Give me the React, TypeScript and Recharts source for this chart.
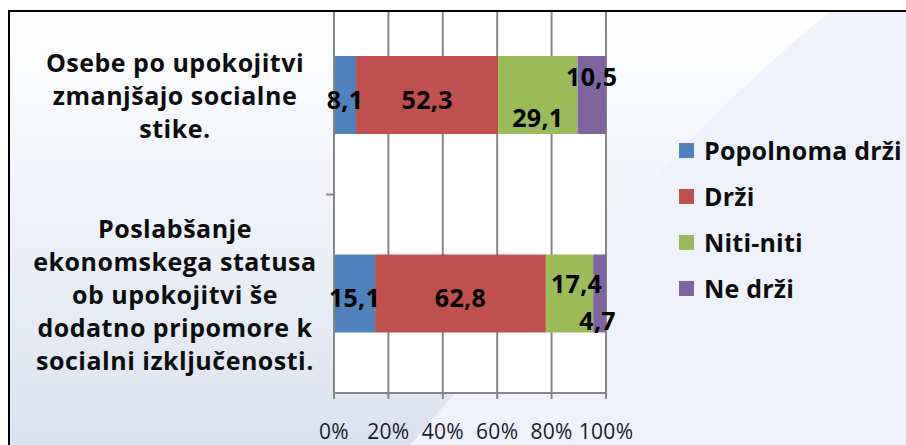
import { BarChart, Bar, XAxis, YAxis, CartesianGrid, LabelList } from 'recharts';

const categories = [
  ['Osebe po upokojitvi', 'zmanjšajo socialne', 'stike.'],
  ['Poslabšanje', 'ekonomskega statusa', 'ob upokojitvi še', 'dodatno pripomore k', 'socialni izključenosti.'],
];
const popolnomaDrzi = [8.1, 15.1];
const drzi = [52.3, 62.8];
const nitiNiti = [29.1, 17.4];
const neDrzi = [10.5, 4.7];
const xTicks = [0, 20, 40, 60, 80, 100];

const series = [
  { key: 'popolnoma', name: 'Popolnoma drži', color: '#4f81bd', values: popolnomaDrzi },
  { key: 'drzi', name: 'Drži', color: '#c0504d', values: drzi },
  { key: 'niti', name: 'Niti-niti', color: '#9bbb59', values: nitiNiti },
  { key: 'ne', name: 'Ne drži', color: '#8064a2', values: neDrzi },
];

const data = categories.map((lines, i) => {
  const row: any = { name: lines.join(' '), idx: i };
  series.forEach((s) => { row[s.key] = s.values[i]; });
  return row;
});

// Excel nudges some labels up/down so they don't collide
const labelNudge: Record<string, { dx: number; dy: number }[]> = {
  popolnoma: [{ dx: 0, dy: 4 }, { dx: 0, dy: 3 }],
  drzi: [{ dx: 0, dy: 4 }, { dx: 0, dy: 3 }],
  niti: [{ dx: 0, dy: 22 }, { dx: 7, dy: -11 }],
  ne: [{ dx: 0, dy: -19 }, { dx: -2, dy: 26 }],
};

const FONT = '"Open Sans", Lato, sans-serif';

const makeLabel = (key: string) => (props: any) => {
  const { x, y, width, height, value, index } = props;
  const n = labelNudge[key][index] || { dx: 0, dy: 0 };
  return (
    <text
      x={x + width / 2 + n.dx}
      y={y + height / 2 + n.dy}
      textAnchor="middle"
      dominantBaseline="central"
      fontFamily={FONT}
      fontWeight={700}
      fontSize={25}
      letterSpacing={0.3}
      fill="#000"
    >
      {String(value).replace('.', ',')}
    </text>
  );
};

const CategoryTick = (props: any) => {
  const { y, payload, index } = props;
  const lines = categories[index] || [];
  const lh = 33;
  const start = y - ((lines.length - 1) * lh) / 2;
  const half = payload.offset || 0;
  return (
    <g>
      {lines.map((l, i) => (
        <text
          key={i}
          x={175}
          y={start + i * lh}
          textAnchor="middle"
          dominantBaseline="central"
          fontFamily={FONT}
          fontWeight={700}
          fontSize={25}
          letterSpacing={0.5}
          fill="#0d0d0d"
        >
          {l}
        </text>
      ))}
      {index === 0 && half > 0 ? (
        <line x1={326} x2={334} y1={y + half} y2={y + half} stroke="#868686" strokeWidth={2} />
      ) : null}
    </g>
  );
};

const LegendBox = () => (
  <div style={{ fontFamily: FONT, fontWeight: 700, fontSize: 25, letterSpacing: 0.2, color: '#0d0d0d', whiteSpace: 'nowrap' }}>
    {series.map((s) => (
      <div key={s.key} style={{ display: 'flex', alignItems: 'center', height: 46 }}>
        <span style={{ display: 'inline-block', width: 15, height: 15, background: s.color, marginRight: 10 }} />
        <span>{s.name}</span>
      </div>
    ))}
  </div>
);

export default function App() {
  return (
    <div style={{ position: 'absolute', left: 0, top: 0, width: 906, height: 445, background: '#fff', overflow: 'hidden' }}>
      {/* backdrop */}
      <svg width={906} height={445} style={{ position: 'absolute', left: 0, top: 0 }}>
        <defs>
          <linearGradient id="bgL" x1="0" y1="0" x2="0" y2="1">
            <stop offset="0%" stopColor="#ffffff" />
            <stop offset="45%" stopColor="#f1f3f9" />
            <stop offset="100%" stopColor="#dbe2f0" />
          </linearGradient>
        </defs>
        <rect x={0} y={0} width={906} height={445} fill="url(#bgL)" />
        <path d="M 845 0 Q 700 110 410 445 L 906 445 L 906 0 Z" fill="#eff2fa" />
        <rect x={0} y={0} width={906} height={10} fill="#fff" />
        <rect x={0} y={0} width={8} height={445} fill="#fff" />
      </svg>
      {/* frame: top and left border only */}
      <div
        style={{
          position: 'absolute', left: 8, top: 10, right: 0, bottom: 0,
          borderTop: '2px solid #000', borderLeft: '2px solid #000', overflow: 'hidden',
        }}
      >
        <div style={{ position: 'absolute', left: -10, top: -12 }}>
          <BarChart
            width={906}
            height={445}
            data={data}
            layout="vertical"
            margin={{ top: -4, right: 300, bottom: 22, left: 0 }}
            barSize={78}
          >
            <CartesianGrid horizontal={false} stroke="#868686" strokeWidth={2} fill="#ffffff" />
            <XAxis
              type="number"
              domain={[0, 100]}
              ticks={xTicks}
              tickFormatter={(v) => `${v}%`}
              stroke="#868686"
              strokeWidth={2}
              tickSize={6}
              tickMargin={25}
              height={30}
              tick={{ fill: '#1a1a2a', fontFamily: FONT, fontSize: 21, letterSpacing: 0.3 }}
            />
            <YAxis
              type="category"
              dataKey="name"
              width={334}
              stroke="#868686"
              strokeWidth={2}
              tickLine={false}
              tick={<CategoryTick />}
              interval={0}
            />
            {series.map((s) => (
              <Bar key={s.key} dataKey={s.key} name={s.name} stackId="a" fill={s.color} isAnimationActive={false}>
                <LabelList dataKey={s.key} content={makeLabel(s.key)} />
              </Bar>
            ))}
          </BarChart>
        </div>
        <div style={{ position: 'absolute', left: 669, top: 115, width: 240 }}>
          <LegendBox />
        </div>
      </div>
    </div>
  );
}
